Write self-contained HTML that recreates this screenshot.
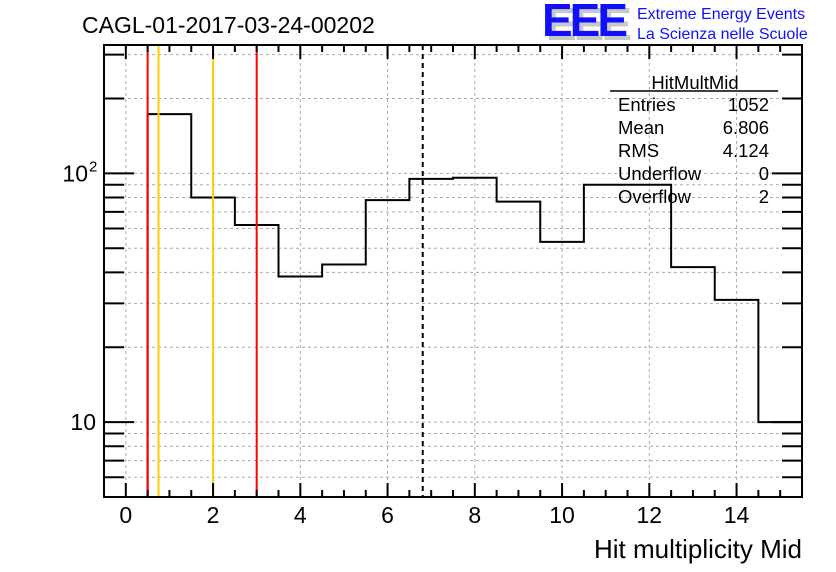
<!DOCTYPE html>
<html><head><meta charset="utf-8">
<style>
body{margin:0;background:#fff;}
svg{display:block;font-family:"Liberation Sans",Arial,sans-serif;}
</style></head>
<body>
<svg id="chart" width="836" height="572" viewBox="0 0 836 572" xmlns="http://www.w3.org/2000/svg">
<rect width="836" height="572" fill="#fff"/>
<text x="82" y="33" font-size="23">CAGL-01-2017-03-24-00202</text>
<g>
<text x="546" y="40" font-size="46" font-weight="bold" fill="#c8c8c8" letter-spacing="-3">EEE</text>
<text x="542" y="36" font-size="46" font-weight="bold" fill="#1010ff" letter-spacing="-3">EEE</text>
<text x="637" y="19" font-size="16" fill="#1010ff">Extreme Energy Events</text>
<text x="637" y="39" font-size="16" fill="#1010ff">La Scienza nelle Scuole</text>
</g>
<g id="grid"></g>
<g id="marks"></g>
<g id="axes"></g>
<g font-size="18.5">
<text x="695" y="89" text-anchor="middle">HitMultMid</text>
<line x1="610" y1="91" x2="778" y2="91" stroke="#000" stroke-width="1.5"/>
<text x="618" y="111">Entries</text><text x="769" y="111" text-anchor="end">1052</text>
<text x="618" y="134">Mean</text><text x="769" y="134" text-anchor="end">6.806</text>
<text x="618" y="157">RMS</text><text x="769" y="157" text-anchor="end">4.124</text>
<text x="618" y="180">Underflow</text><text x="769" y="180" text-anchor="end">0</text>
<text x="618" y="203">Overflow</text><text x="769" y="203" text-anchor="end">2</text>
</g>
<text x="802" y="558" font-size="26" text-anchor="end">Hit multiplicity Mid</text>
</svg>
<script>
const binLow = [-0.5,0.5,1.5,2.5,3.5,4.5,5.5,6.5,7.5,8.5,9.5,10.5,11.5,12.5,13.5,14.5];
const counts = [0,173,80,62,38.5,43,78,95,96,77,53,90,90,42,31,10];
const xTicks = [0,2,4,6,8,10,12,14];
const yMajor = [10,100];
const yMajorBase = ["10","10"];
const yMajorExp = ["","2"];
const redLines = [0.5,3.0];
const orangeLines = [0.75,2.0];
const meanLine = [6.806];

const L=104,R=802,T=45,B=497,X0=-0.5,X1=15.5,Y0=5.0,Y1=328;
const sx=v=>L+(v-X0)/(X1-X0)*(R-L);
const sy=v=>B-(Math.log10(v)-Math.log10(Y0))/(Math.log10(Y1)-Math.log10(Y0))*(B-T);
const NS="http://www.w3.org/2000/svg";
function mk(tag,attrs,parent){const e=document.createElementNS(NS,tag);for(const k in attrs)e.setAttribute(k,attrs[k]);parent.appendChild(e);return e;}
const grid=document.getElementById('grid'),marks=document.getElementById('marks'),axes=document.getElementById('axes');

const yMinor=[];
for(const d of [1,10,100]) for(let m=1;m<10;m++){const v=d*m;if(v>=Y0&&v<=Y1)yMinor.push(v);}
yMinor.forEach(v=>{
 const y=sy(v);
 const g=mk('line',{x1:L,x2:R,y1:y,y2:y,stroke:'#aaa','stroke-dasharray':'3,3','stroke-width':1},grid);
 
 const maj=yMajor.includes(v);const len=maj?30:20;
 mk('line',{x1:L,x2:L+len,y1:y,y2:y,stroke:'#000','stroke-width':2},axes);
 mk('line',{x1:R,x2:R-len,y1:y,y2:y,stroke:'#000','stroke-width':2},axes);
});
yMajor.forEach((v,i)=>{
 const t=mk('text',{x:yMajorExp[i]?88:96,y:sy(v)+8,'font-size':23,'text-anchor':'end'},axes);
 
 t.textContent=yMajorBase[i];
 if(yMajorExp[i]){const s=mk('text',{x:89,y:sy(v)-2,'font-size':15},axes);
  
  s.textContent=yMajorExp[i];}
});
xTicks.forEach(v=>{
 const x=sx(v);
 const g=mk('line',{x1:x,x2:x,y1:T,y2:B,stroke:'#aaa','stroke-dasharray':'3,3','stroke-width':1},grid);
 
 const t=mk('text',{x:x,y:523,'font-size':23,'text-anchor':'middle'},axes);
 
 t.textContent=String(v);
});
for(let v=0;v<=15.5;v+=0.5){
 const x=sx(v);const len=(v%2===0)?14:7;
 mk('line',{x1:x,x2:x,y1:B,y2:B-len,stroke:'#000','stroke-width':2},axes);
 mk('line',{x1:x,x2:x,y1:T,y2:T+len,stroke:'#000','stroke-width':2},axes);
}
let d='';
binLow.forEach((lo,i)=>{
 const c=counts[i];const y=c>0?Math.min(sy(c),B):B;
 const x1=sx(lo),x2=sx(lo+1);
 d+=(i===0?'M':'L')+x1+','+y+' L'+x2+','+y+' ';
});
d+='L'+sx(binLow[binLow.length-1]+1)+','+B;
const h=mk('path',{d:d,fill:'none',stroke:'#000','stroke-width':2},marks);

redLines.forEach(v=>{const l=mk('line',{x1:sx(v),x2:sx(v),y1:T,y2:B,stroke:'#ff0000','stroke-width':2},marks);
 });
orangeLines.forEach(v=>{const l=mk('line',{x1:sx(v),x2:sx(v),y1:T,y2:B,stroke:'#ffcc00','stroke-width':2},marks);
 });
meanLine.forEach(v=>{const l=mk('line',{x1:sx(v),x2:sx(v),y1:T,y2:B,stroke:'#000','stroke-width':2,'stroke-dasharray':'5,4'},marks);
 });
const f=mk('rect',{x:L,y:T,width:R-L,height:B-T,fill:'none',stroke:'#000','stroke-width':2},axes);

</script>
</body></html>
